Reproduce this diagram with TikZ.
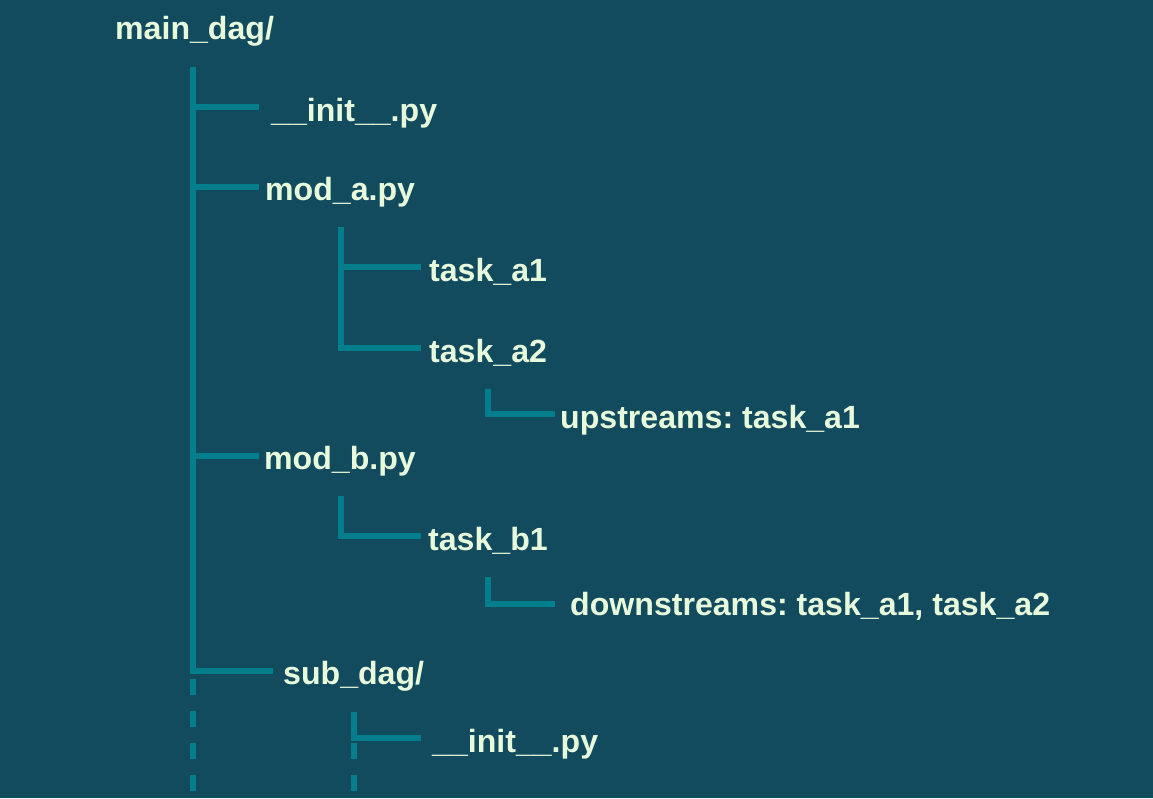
\documentclass[tikz,border=0pt]{standalone}
\usepackage{fontspec}
\setmainfont{Liberation Sans}
\frenchspacing
\definecolor{bgc}{RGB}{18,74,94}
\definecolor{linec}{RGB}{2,126,141}
\definecolor{textc}{RGB}{232,250,220}
\begin{document}
\begin{tikzpicture}[x=1pt,y=-1pt,
  lbl/.style={anchor=base west,inner sep=0pt,text=textc,font=\fontsize{32.1}{38}\selectfont\bfseries\frenchspacing},
  tline/.style={draw=linec,line width=5.5pt,line cap=butt,line join=miter},
  dline/.style={tline,dash pattern=on 16pt off 16pt}]
\fill[bgc] (0,0) rectangle (1153,798);
\useasboundingbox (0,0) rectangle (1153,798);
% labels
\node[lbl] (root) at (115,39) {main\_dag/};
\node[lbl] (init1) at (271,121) {\_\_init\_\_.py};
\node[lbl] (moda) at (265,200) {mod\_a.py};
\node[lbl] (ta1) at (429,281) {task\_a1};
\node[lbl] (ta2) at (429,362) {task\_a2};
\node[lbl] (up) at (560,428) {upstreams: task\_a1};
\node[lbl] (modb) at (264,469) {mod\_b.py};
\node[lbl] (tb1) at (428,550) {task\_b1};
\node[lbl] (down) at (570,615) {downstreams: task\_a1, task\_a2};
\node[lbl] (sub) at (283,684) {sub\_dag/};
\node[lbl] (init2) at (432,752) {\_\_init\_\_.py};
% anchor coordinates
\coordinate (mtop) at (193,67);
\coordinate (mc1) at (193,107); \coordinate (me1) at (259,107);
\coordinate (mc2) at (193,187); \coordinate (me2) at (259,187);
\coordinate (mc3) at (193,456); \coordinate (me3) at (259,456);
\coordinate (mc4) at (193,671); \coordinate (me4) at (273,671);
\coordinate (md0) at (193,679); \coordinate (md1) at (193,798);
\coordinate (atop) at (341,227);
\coordinate (ac1) at (341,267); \coordinate (ae1) at (421,267);
\coordinate (ac2) at (341,348); \coordinate (ae2) at (421,348);
\coordinate (ptop) at (488,389); \coordinate (pc) at (488,414); \coordinate (pe) at (555,414);
\coordinate (btop) at (341,496); \coordinate (bc) at (341,536); \coordinate (be) at (421,536);
\coordinate (qtop) at (488,577); \coordinate (qc) at (488,604); \coordinate (qe) at (555,604);
\coordinate (stop) at (354,712); \coordinate (sc) at (354,738); \coordinate (se) at (421,738);
\coordinate (sd0) at (354,743); \coordinate (sd1) at (354,798);
% main tree
\draw[tline] (mtop) -- (mc4) -- (me4);
\draw[tline] (mc1) -- (me1);
\draw[tline] (mc2) -- (me2);
\draw[tline] (mc3) -- (me3);
\draw[dline] (md0) -- (md1);
% mod_a subtree
\draw[tline] (atop) -- (ac2) -- (ae2);
\draw[tline] (ac1) -- (ae1);
\draw[tline] (ptop) -- (pc) -- (pe);
% mod_b subtree
\draw[tline] (btop) -- (bc) -- (be);
\draw[tline] (qtop) -- (qc) -- (qe);
% sub_dag subtree
\draw[tline] (stop) -- (sc) -- (se);
\draw[dline] (sd0) -- (sd1);
\end{tikzpicture}
\end{document}
